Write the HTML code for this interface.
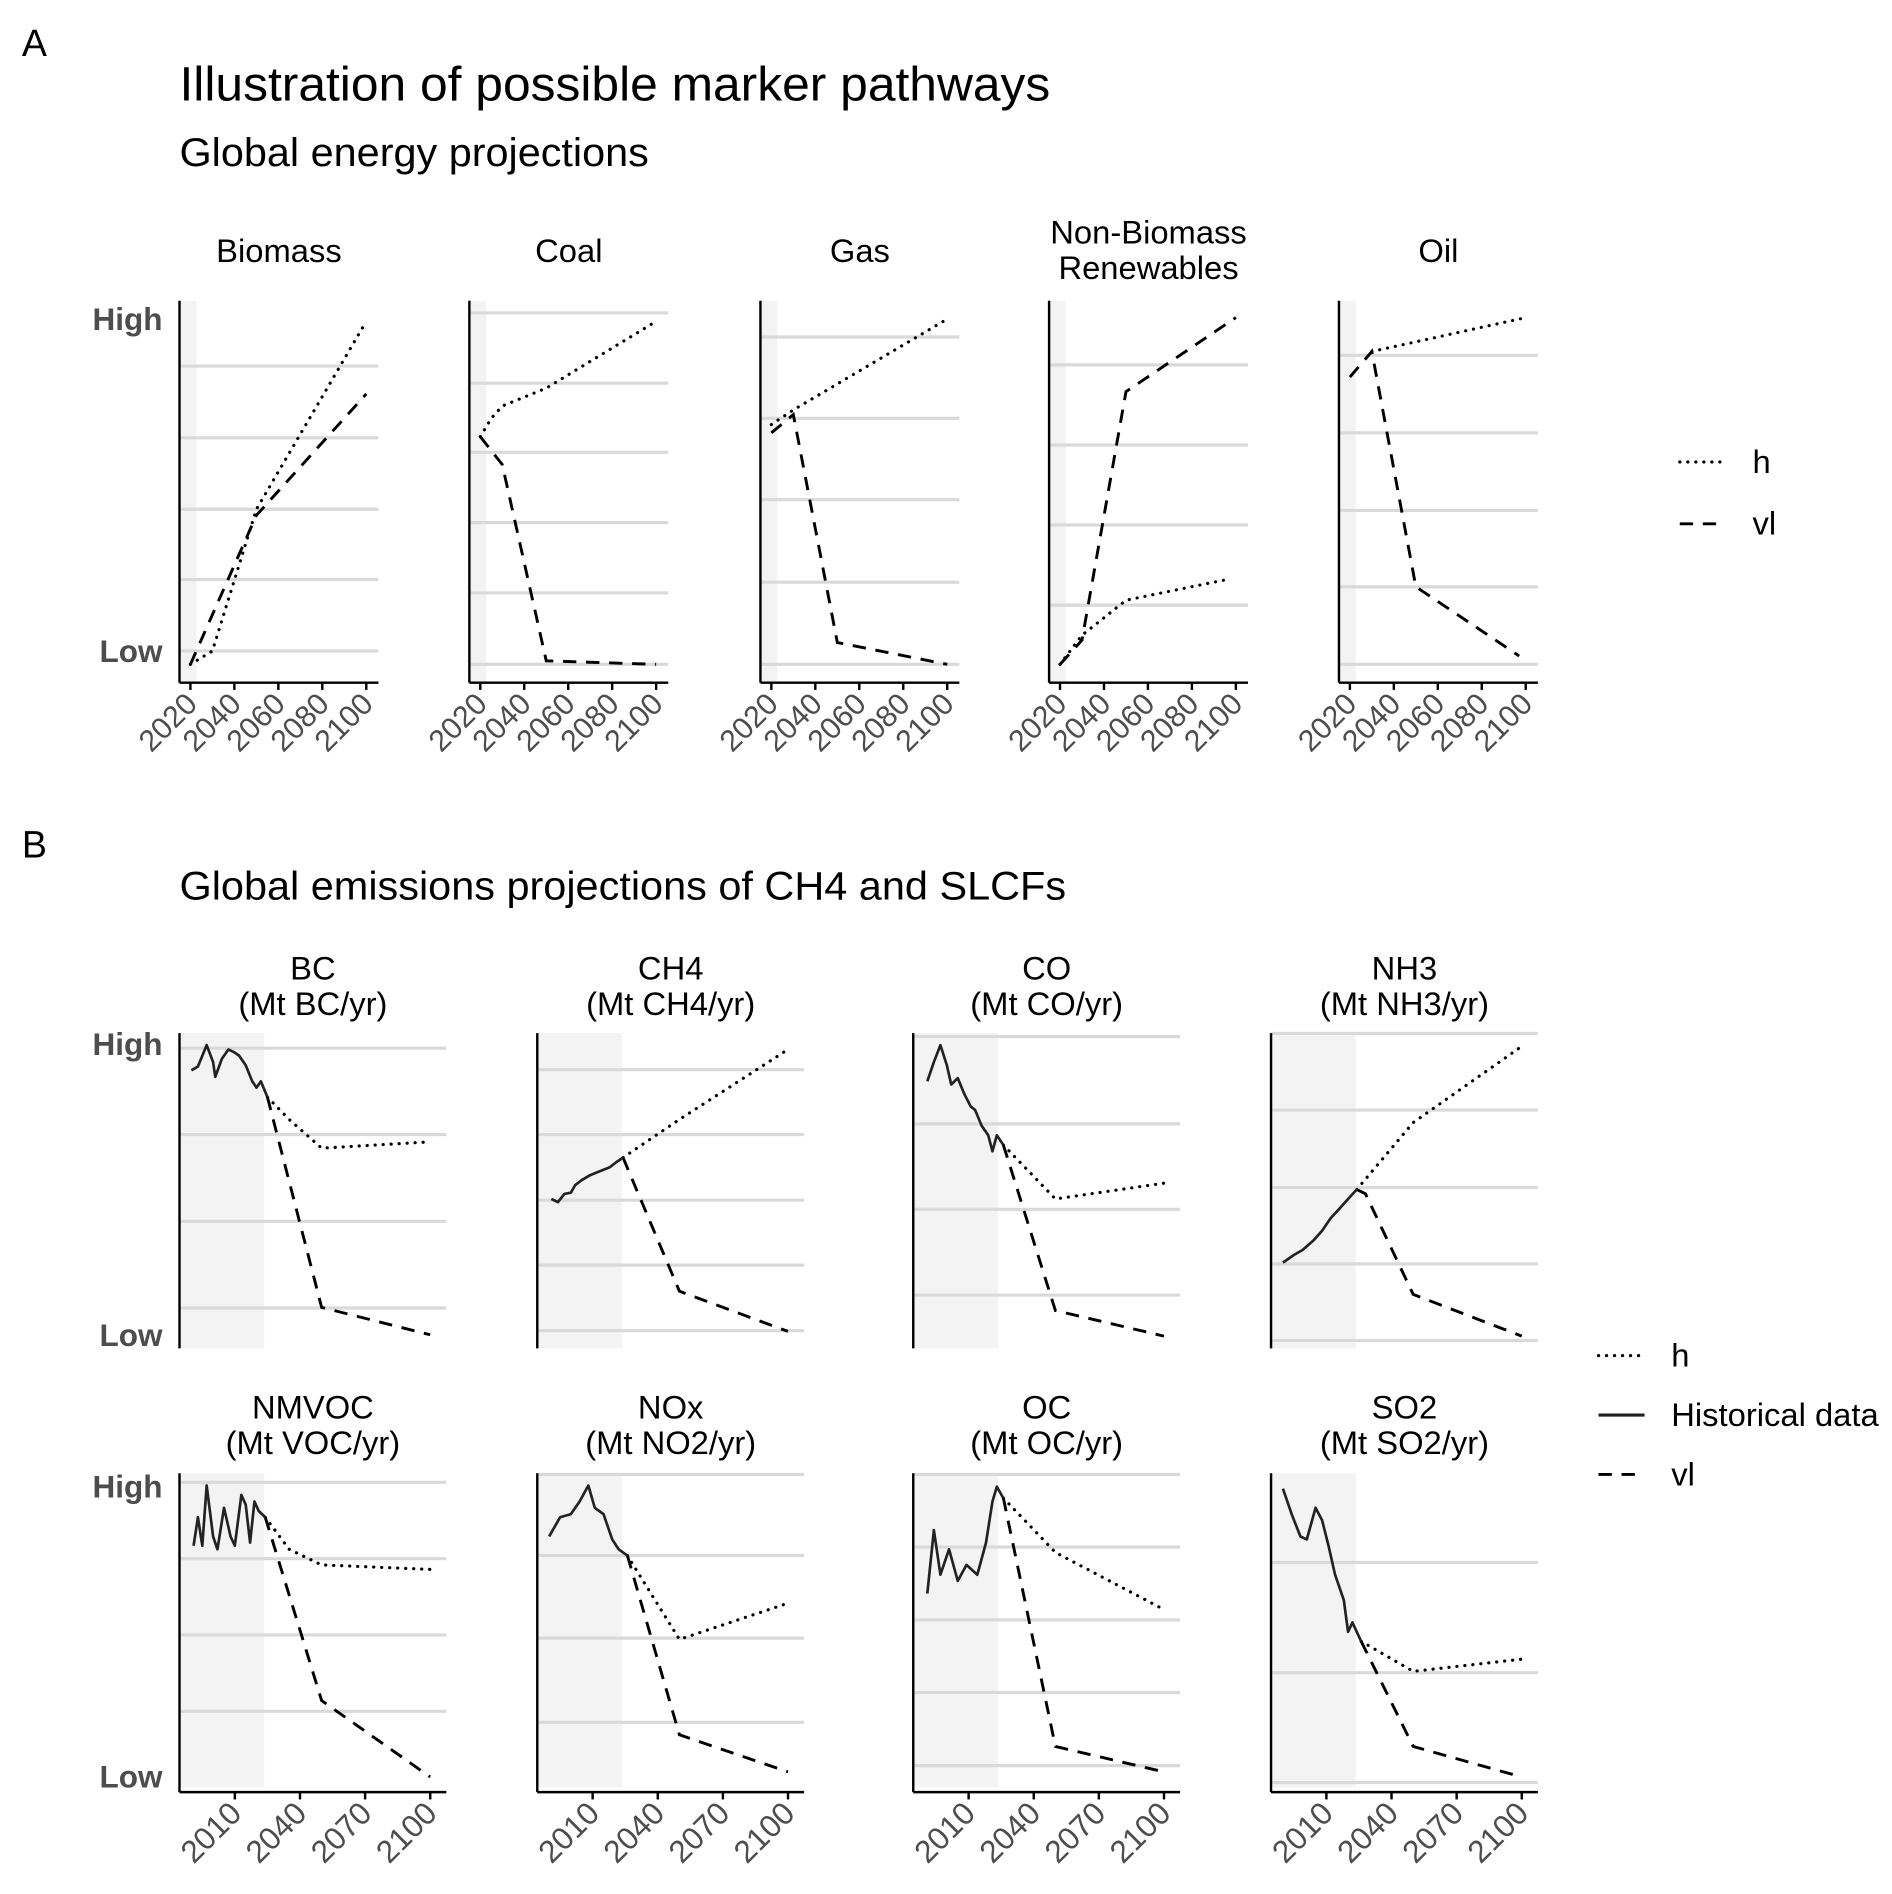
<!DOCTYPE html>
<html><head><meta charset="utf-8"><style>
html,body{margin:0;padding:0;background:#fff;}
svg{display:block;}
text{font-family:"Liberation Sans",sans-serif;}
</style></head><body>
<svg id="chart" width="1892" height="1894" viewBox="0 0 1560 1562" preserveAspectRatio="none" xmlns="http://www.w3.org/2000/svg">
<rect width="1560" height="1562" fill="#fff"/>
<text x="18" y="46" font-size="31">A</text>
<text x="148" y="83" font-size="40" textLength="718" lengthAdjust="spacingAndGlyphs">Illustration of possible marker pathways</text>
<text x="148" y="137" font-size="33" textLength="387" lengthAdjust="spacingAndGlyphs">Global energy projections</text>
<text x="18" y="707" font-size="31">B</text>
<text x="148" y="742" font-size="33" textLength="731" lengthAdjust="spacingAndGlyphs">Global emissions projections of CH4 and SLCFs</text>
<g id="plots"></g>
</svg>
<script>
// ---------- Panel A data (values on 0-100 relative scale) ----------
const energyNames = ["Biomass","Coal","Gas","Non-Biomass|Renewables","Oil"];
const energyGrid = [[82.9,64.1,45.4,27.0,8.3],[96.8,78.4,60.3,41.9,23.5,4.8],[90.5,69.2,47.9,26.3,4.8],[83.2,62.2,41.3,20.3],[85.7,65.4,45.1,25.1,4.8]];
const energyHYears = [[2020,2030,2050,2100],[2020,2025,2030,2050,2100],[2020,2030,2100],[2020,2030,2050,2096],[2030,2100]];
const energyHValues = [[4.8,8.3,45.4,94.6],[64.4,69.2,72.4,77.1,94.6],[67.6,71.4,95.2],[4.8,12.4,21.6,27.0],[86.7,95.6]];
const energyVlYears = [[2020,2050,2100],[2020,2030,2050,2100],[2020,2030,2050,2100],[2020,2030,2050,2100],[2020,2030,2050,2097]];
const energyVlValues = [[4.8,43.8,75.6],[64.4,57.1,5.7,4.8],[65.4,70.2,10.5,4.8],[4.8,11.1,76.2,95.6],[80.0,86.7,25.1,7.0]];
const energyTicks = [2020,2040,2060,2080,2100];

// ---------- Panel B data ----------
const emisNames = ["BC|(Mt BC/yr)","CH4|(Mt CH4/yr)","CO|(Mt CO/yr)","NH3|(Mt NH3/yr)","NMVOC|(Mt VOC/yr)","NOx|(Mt NO2/yr)","OC|(Mt OC/yr)","SO2|(Mt SO2/yr)"];
const emisGrid = [[95.2,67.8,40.3,12.8],[88.4,67.8,47.0,26.4,5.6],[98.9,71.2,44.1,16.9],[99.9,75.6,51.0,26.8,2.5],[97.1,72.8,48.5,24.2],[99.6,73.8,47.5,20.7],[99.6,76.5,53.3,30.2,6.9],[71.6,36.5,1.5]];
const histYears = [
 [1990,1993,1997,2000,2001,2004,2007,2010,2012,2015,2018,2020,2022,2025],
 [1991,1994,1997,2000,2002,2005,2009,2014,2018,2021,2024],
 [1991,1994,1997,2000,2002,2005,2008,2011,2013,2016,2019,2021,2023,2026],
 [1990,1995,1999,2004,2008,2012,2016,2020,2024],
 [1991,1993,1995,1997,2000,2002,2005,2008,2010,2013,2015,2017,2019,2021,2024],
 [1990,1995,2000,2004,2008,2011,2015,2019,2022,2026],
 [1991,1994,1997,2001,2005,2009,2014,2018,2021,2023,2026],
 [1990,1994,1998,2001,2005,2008,2011,2014,2018,2020,2022,2026]];
const histValues = [
 [88.2,89.4,96.2,90.8,86.1,91.8,94.8,93.8,92.8,89.8,84.7,82.7,84.7,79.7],
 [47.4,46.4,49.0,49.4,51.8,53.4,55.0,56.4,57.5,59.1,60.5],
 [84.7,90.8,96.2,89.8,83.7,85.7,80.7,76.7,75.6,70.6,67.6,62.5,67.6,64.5],
 [27.2,29.6,31.2,34.2,37.3,41.3,44.3,47.4,50.4],
 [76.9,86.0,76.9,96.1,79.9,75.8,89.0,79.9,76.9,93.1,90.0,77.9,91.0,88.0,86.0],
 [79.9,86.0,87.0,91.0,96.1,89.0,87.0,78.9,75.8,73.8],
 [61.7,81.9,67.7,75.8,65.7,70.8,67.7,77.9,91.0,95.7,92.1],
 [95.1,87.0,79.9,78.9,89.0,85.0,76.9,67.7,59.6,49.5,52.5,46.5]];
const emisHYears = [[2025,2035,2050,2100],[2024,2050,2100],[2026,2050,2100],[2024,2050,2100],[2024,2035,2050,2100],[2026,2050,2100],[2026,2050,2100],[2026,2050,2100]];
const emisHValues = [[79.7,72.6,63.5,65.5],[60.5,72.6,94.8],[64.5,47.4,52.4],[50.4,71.6,95.8],[86.0,75.8,70.8,69.4],[73.8,47.1,58.6],[92.1,74.8,56.6],[46.5,36.9,40.8]];
const emisVlYears = [[2025,2050,2100],[2024,2050,2100],[2026,2050,2100],[2024,2028,2050,2100],[2024,2050,2100],[2026,2050,2100],[2026,2050,2100],[2026,2050,2100]];
const emisVlValues = [[79.7,13.0,4.3],[60.5,18.1,5.4],[64.5,12.0,3.9],[50.4,49.0,17.1,3.9],[86.0,27.6,3.3],[73.8,16.7,4.9],[92.1,13.0,4.9],[46.5,13.0,3.3]];
const emisTicks = [2010,2040,2070,2100];

const NS="http://www.w3.org/2000/svg";
const root=document.getElementById('plots');
function mk(tag,attrs,parent){const e=document.createElementNS(NS,tag);for(const k in attrs)e.setAttribute(k,attrs[k]);(parent||root).appendChild(e);return e;}
const GRID="#d9d9d9", GREY="#4d4d4d";
function lineStyle(kind){
  if(kind==='h') return {stroke:"#000","stroke-width":2.6,"stroke-dasharray":"0.1 6.5","stroke-linecap":"round",fill:"none"};
  if(kind==='vl') return {stroke:"#000","stroke-width":2.4,"stroke-dasharray":"11 8",fill:"none"};
  return {stroke:"#222","stroke-width":2.2,fill:"none","stroke-linejoin":"round"};
}
function drawSeries(g,years,vals,xs,ys,kind,name){
  const d=years.map((y,i)=>(i?'L':'M')+xs(y).toFixed(1)+','+ys(vals[i]).toFixed(1)).join('');
  const p=mk('path',Object.assign({d:d},lineStyle(kind)),g);
  
  
}
function facetTitle(g,cx,yBase,label,fs){
  label.split('|').forEach((t,i)=>{const tx=mk('text',{x:cx,y:yBase+i*29,'font-size':fs,'text-anchor':'middle'},g);tx.textContent=t;
  
  });
}
function hiLo(g,top,bottom,hiY,loY){
  const a=mk('text',{x:134,y:hiY,'font-size':26,'font-weight':'bold',fill:GREY,'text-anchor':'end'},g);a.textContent='High';
  
  
  const b=mk('text',{x:134,y:loY,'font-size':26,'font-weight':'bold',fill:GREY,'text-anchor':'end'},g);b.textContent='Low';
  
  
}
function xTicks(g,ticks,xs,yAxis,x0,x1,fs){
  mk('line',{x1:x0,x2:x1,y1:yAxis,y2:yAxis,stroke:"#000","stroke-width":2},g);
  ticks.forEach(t=>{const x=xs(t);
    mk('line',{x1:x,x2:x,y1:yAxis,y2:yAxis+6,stroke:"#000","stroke-width":2},g);
    const tx=mk('text',{x:x+7,y:yAxis+19,'font-size':fs,fill:GREY,'text-anchor':'end',transform:`rotate(-45 ${x+7} ${yAxis+19})`},g);
    tx.textContent=t;
    
    });
}

// Panel A
const aX0=[148,387,627,865,1104], aTop=248, aBot=563, aW=164;
energyNames.forEach((nm,i)=>{
  const g=mk('g',{});
  
  
  const x0=aX0[i];
  const xs=y=>x0+9+(y-2020)*1.8125;
  const ys=v=>aBot-v*(aBot-aTop)/100;
  mk('rect',{x:x0,y:aTop,width:xs(2022.7)-x0,height:aBot-aTop,fill:"#f3f3f3"},g);
  energyGrid[i].forEach(v=>mk('line',{x1:x0,x2:x0+aW,y1:ys(v),y2:ys(v),stroke:GRID,"stroke-width":2.6},g));
  mk('line',{x1:x0,x2:x0,y1:aTop,y2:aBot,stroke:"#000","stroke-width":2},g);
  xTicks(g,energyTicks,xs,aBot,x0,x0+aW,25);
  drawSeries(g,energyVlYears[i],energyVlValues[i],xs,ys,'vl','vl-line');
  drawSeries(g,energyHYears[i],energyHValues[i],xs,ys,'h','h-line');
  facetTitle(g,x0+82,nm.includes('|')?201:216,nm,27);
  if(i===0) hiLo(g,aTop,aBot,272,546);
});

// Panel B
const bX0=[148,443,753,1048], bW=220;
const rows=[{top:852,bot:1112,title:808,hi:870,lo:1110},{top:1215,bot:1474,title:1170,hi:1235,lo:1474}];
emisNames.forEach((nm,i)=>{
  const r=rows[Math.floor(i/4)], x0=bX0[i%4];
  const g=mk('g',{});
  
  
  const xs=y=>x0+(y-1984.5)*1.79;
  const ys=v=>r.bot-v*(r.bot-r.top)/100;
  mk('rect',{x:x0,y:r.top,width:xs(2023.5)-x0,height:r.bot-r.top,fill:"#f3f3f3"},g);
  emisGrid[i].forEach(v=>mk('line',{x1:x0,x2:x0+bW,y1:ys(v),y2:ys(v),stroke:GRID,"stroke-width":2.6},g));
  mk('line',{x1:x0,x2:x0,y1:r.top,y2:r.bot+(i>=4?4:0),stroke:"#000","stroke-width":2},g);
  if(i>=4) xTicks(g,emisTicks,xs,r.bot+4,x0,x0+bW,26);
  drawSeries(g,emisVlYears[i],emisVlValues[i],xs,ys,'vl','vl-line');
  drawSeries(g,emisHYears[i],emisHValues[i],xs,ys,'h','h-line');
  drawSeries(g,histYears[i],histValues[i],xs,ys,'hist','historical-line');
  facetTitle(g,x0+110,r.title,nm,27);
  if(i%4===0) hiLo(g,r.top,r.bot,r.hi,r.lo);
});

// Legends
function legend(items,x,y0,gap,name){
  const g=mk('g',{});
  
  
  items.forEach((it,i)=>{const y=y0+i*gap;
    const p=mk('path',Object.assign({d:`M${x},${y}L${x+38},${y}`},lineStyle(it[0])),g);
    if(it[0]==='hist'){p.setAttribute('stroke-width',2.6);}
    const t=mk('text',{x:x+60,y:y+9,'font-size':27},g);t.textContent=it[1];
    
    });
}
legend([['h','h'],['vl','vl']],1385,381,51,'legend-a');
legend([['h','h'],['hist','Historical data'],['vl','vl']],1318,1118,49,'legend-b');
</script>
</body></html>
